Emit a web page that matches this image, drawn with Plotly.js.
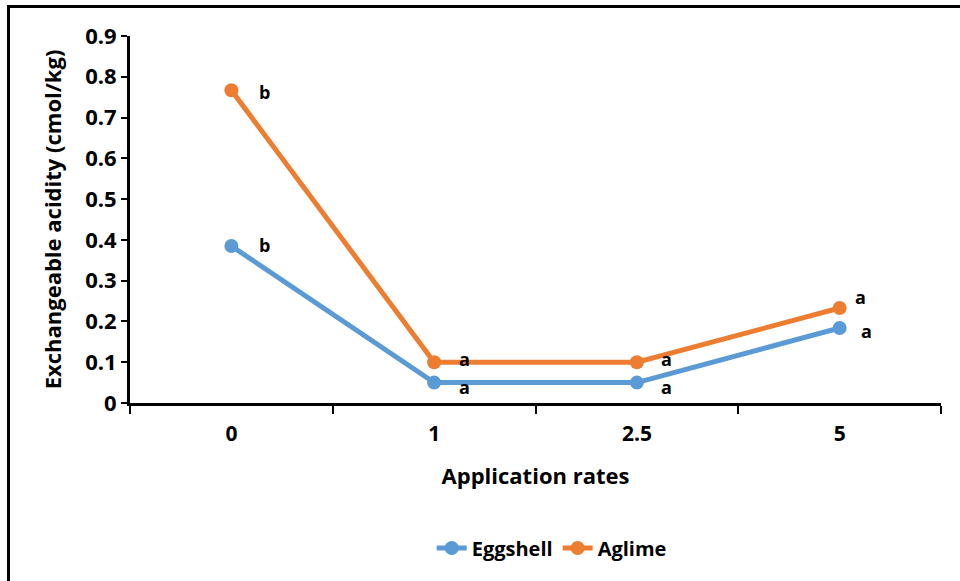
<!DOCTYPE html>
<html>
<head>
<meta charset="utf-8">
<script src="https://cdn.plot.ly/plotly-3.0.1.min.js"></script>
<style>
html,body{margin:0;padding:0;background:#fff;}
#wrap{position:relative;width:960px;height:581px;overflow:hidden;}
#chart{width:960px;height:581px;}
#frame{position:absolute;left:7px;top:5px;width:960px;height:600px;border-top:3px solid #000;border-left:3px solid #000;pointer-events:none;}
</style>
</head>
<body>
<div id="wrap"><div id="chart"></div><div id="frame"></div></div>
<script>
const categories = ['0', '1', '2.5', '5'];
const eggshell = [0.385, 0.05, 0.05, 0.184];
const aglime = [0.767, 0.10, 0.10, 0.233];
const eggshellLetters = ['b', 'a', 'a', 'a'];
const aglimeLetters = ['b', 'a', 'a', 'a'];

const FONT = '"Open Sans", sans-serif';
const blue = '#5B9BD5';
const orange = '#ED7D31';

const traces = [
  {x: categories, y: eggshell, name: 'Eggshell', type: 'scatter', mode: 'lines+markers',
   line: {color: blue, width: 5}, marker: {color: blue, size: 14}},
  {x: categories, y: aglime, name: 'Aglime', type: 'scatter', mode: 'lines+markers',
   line: {color: orange, width: 5}, marker: {color: orange, size: 14}}
];

const annShiftE = [[33, 1], [30, -4], [30, -4], [27, -3]];
const annShiftA = [[33, -2], [30, 3], [30, 3], [21, 11]];
const annotations = [];
categories.forEach((c, i) => {
  annotations.push({x: i, y: eggshell[i], xref: 'x', yref: 'y', text: eggshellLetters[i], showarrow: false,
    xshift: annShiftE[i][0], yshift: annShiftE[i][1], font: {family: FONT, size: 18, color: '#000', weight: 'bold'}});
  annotations.push({x: i, y: aglime[i], xref: 'x', yref: 'y', text: aglimeLetters[i], showarrow: false,
    xshift: annShiftA[i][0], yshift: annShiftA[i][1], font: {family: FONT, size: 18, color: '#000', weight: 'bold'}});
});

const layout = {
  width: 960, height: 581,
  margin: {l: 130, r: 19, t: 36, b: 178},
  paper_bgcolor: '#fff', plot_bgcolor: '#fff',
  font: {family: FONT, color: '#000', weight: 'bold'},
  showlegend: true,
  legend: {orientation: 'h', x: 0.52, xanchor: 'center', y: -0.395, yanchor: 'middle',
    font: {family: FONT, size: 20, color: '#000', weight: 'bold'}, traceorder: 'normal'},
  xaxis: {
    type: 'category', range: [-0.5, 3.5], tickson: 'boundaries',
    showline: true, linecolor: '#000', linewidth: 3,
    ticks: 'outside', ticklen: 8, tickwidth: 2, tickcolor: '#000',
    ticklabelstandoff: 10,
    showgrid: false, zeroline: false,
    tickfont: {family: FONT, size: 21, color: '#000', weight: 'bold'},
    title: {text: 'Application rates', font: {family: FONT, size: 22, color: '#000', weight: 'bold'}, standoff: 23}
  },
  yaxis: {
    range: [0, 0.9], dtick: 0.1, tick0: 0,
    showline: true, linecolor: '#000', linewidth: 3,
    ticks: 'outside', ticklen: 6, tickwidth: 2, tickcolor: '#000',
    showgrid: false, zeroline: false,
    tickfont: {family: FONT, size: 22, color: '#000', weight: 'bold'},
    tickformat: '.1~f',
    title: {text: 'Exchangeable acidity (cmol/kg)', font: {family: FONT, size: 22, color: '#000', weight: 'bold'}, standoff: 18}
  },
  annotations: annotations
};

Plotly.newPlot('chart', traces, layout, {displayModeBar: false, staticPlot: true});
</script>
</body>
</html>
